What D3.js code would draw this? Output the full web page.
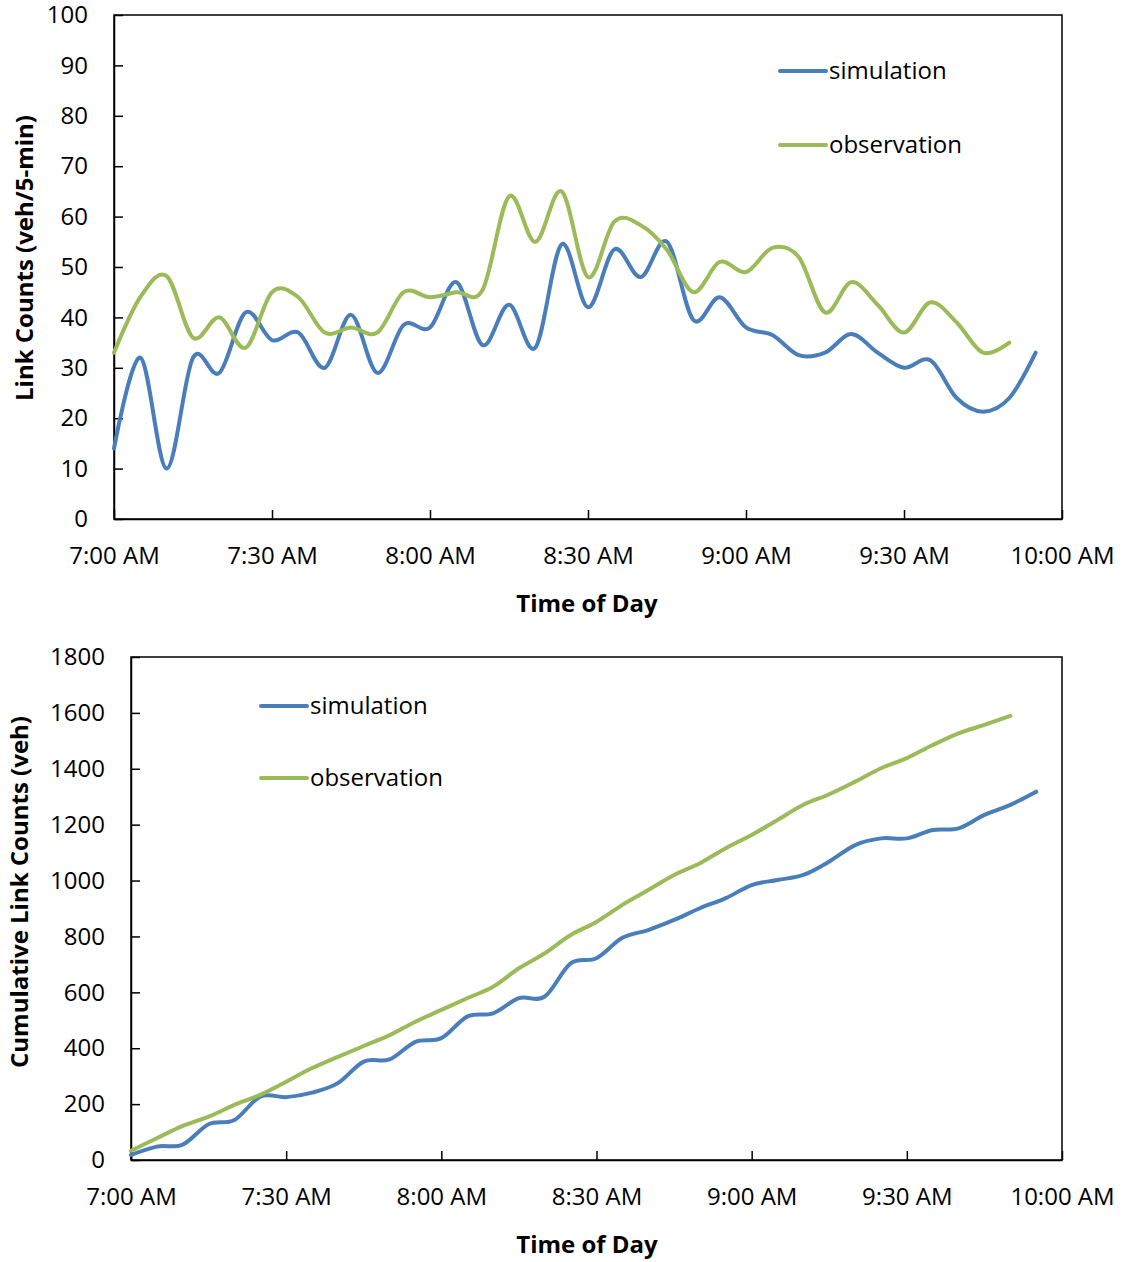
<!DOCTYPE html>
<html><head><meta charset="utf-8">
<script src="https://cdnjs.cloudflare.com/ajax/libs/d3/7.8.5/d3.min.js"></script>
<style>
body{margin:0;background:#fff;}
svg text{font-family:"Open Sans",sans-serif;fill:#000;}
</style></head>
<body><svg id="c" width="1125" height="1262"></svg>
<script>
// ---- data ----
const seriesNames = ["simulation", "observation"];
const xTickLabels = ["7:00 AM","7:30 AM","8:00 AM","8:30 AM","9:00 AM","9:30 AM","10:00 AM"];
const xTickMinutes = [0,30,60,90,120,150,180];
// 5-minute link counts, 7:00 .. 9:55 (sim) and 7:00 .. 9:50 (obs)
const simCounts = [14,32,10,32,29,41,35.5,37,30,40.5,29,38.5,38,47,34.5,42.5,34,54.5,42,53.5,48,55,39.5,44,38,36.5,32.5,33,36.7,33,30,31.5,24,21.3,24,33];
const obsCounts = [33,44,48.2,36,40,34,45,44,37,38,37,45,44,45,45.5,64,55,65,48,59,58.3,53.4,45,51,49,53.8,52,41,47,42.5,37,43,39,33,35];
// cumulative link counts
const simCum = [18,48,55,128,143,227,225,241,275,352,360,423,436,513,525,579,585,704,722,795,823,859,901,937,984,1002,1020,1068,1127,1151,1151,1181,1187,1235,1271,1318];
const obsCum = [33,78,122,155,197,233,280,329,369,408,447,495,537,579,620,686,740,805,852,913,966,1020,1062,1116,1163,1217,1271,1309,1354,1402,1438,1485,1527,1557,1589];
const topTicks = [0,10,20,30,40,50,60,70,80,90,100];
const botTicks = [0,200,400,600,800,1000,1200,1400,1600,1800];
const colors = ["#4A7EBB", "#9BBB59"];
const FS = 24;

const svg = d3.select("#c");

function chart(cfg){
  const g = svg.append("g");
  const x = d3.scaleLinear().domain([0,180]).range([cfg.left, cfg.right]);
  const y = d3.scaleLinear().domain([cfg.yTicks[0], cfg.yTicks[cfg.yTicks.length-1]]).range([cfg.bottom, cfg.top]);
  // frame
  g.append("rect").attr("x",cfg.left).attr("y",cfg.top).attr("width",cfg.right-cfg.left).attr("height",cfg.bottom-cfg.top)
    .attr("fill","none").attr("stroke","#000").attr("stroke-width",1.5);
  const ya = d3.axisLeft(y).tickValues(cfg.yTicks).tickSizeInner(-9).tickSizeOuter(0).tickPadding(26).tickFormat(d3.format("d"));
  const yg = g.append("g").attr("transform",`translate(${cfg.left},0)`).call(ya);
  const xa = d3.axisBottom(x).tickValues(xTickMinutes).tickSizeInner(-9).tickSizeOuter(0).tickPadding(28)
    .tickFormat((d,i)=>xTickLabels[i]);
  const xg = g.append("g").attr("transform",`translate(0,${cfg.bottom})`).call(xa);
  [yg,xg].forEach(a=>{
    a.select(".domain").attr("stroke","#000").attr("stroke-width",1.5);
    a.selectAll(".tick line").attr("stroke","#000").attr("stroke-width",1.5);
    a.selectAll(".tick text").attr("font-size",FS).attr("font-family","'Open Sans',sans-serif").attr("fill","#000");
  });
  const line = d3.line().x((d,i)=>x(i*5)).y(d=>y(d)).curve(d3.curveCardinal.tension(0));
  cfg.series.forEach((s,k)=>{
    g.append("path").attr("d",line(s)).attr("fill","none").attr("stroke",colors[k])
      .attr("stroke-width",4).attr("stroke-linecap","round").attr("stroke-linejoin","round");
  });
  // legend
  seriesNames.forEach((n,k)=>{
    const ly = cfg.legY[k];
    g.append("line").attr("x1",cfg.legX).attr("x2",cfg.legX+46).attr("y1",ly).attr("y2",ly)
      .attr("stroke",colors[k]).attr("stroke-width",4).attr("stroke-linecap","round");
    g.append("text").attr("x",cfg.legX+49).attr("y",ly+8).attr("font-size",FS).text(n);
  });
  // titles
  g.append("text").attr("x",cfg.xTitleX).attr("y",cfg.xTitleY).attr("text-anchor","middle")
    .attr("font-size",FS).attr("font-weight","bold").text("Time of Day");
  g.append("text").attr("transform",`translate(${cfg.yTitleX},${cfg.yTitleY}) rotate(-90)`)
    .attr("text-anchor","middle").attr("font-size",FS).attr("font-weight","bold").text(cfg.yTitle);
}

chart({left:114,right:1062,top:15,bottom:519,yTicks:topTicks,series:[simCounts,obsCounts],
  legX:780,legY:[71,145],xTitleX:587,xTitleY:612,yTitleX:33,yTitleY:258,yTitle:"Link Counts (veh/5-min)"});
chart({left:131,right:1062,top:657,bottom:1160,yTicks:botTicks,series:[simCum,obsCum],
  legX:261,legY:[706,778],xTitleX:587,xTitleY:1253,yTitleX:28,yTitleY:892,yTitle:"Cumulative Link Counts (veh)"});
</script></body></html>
